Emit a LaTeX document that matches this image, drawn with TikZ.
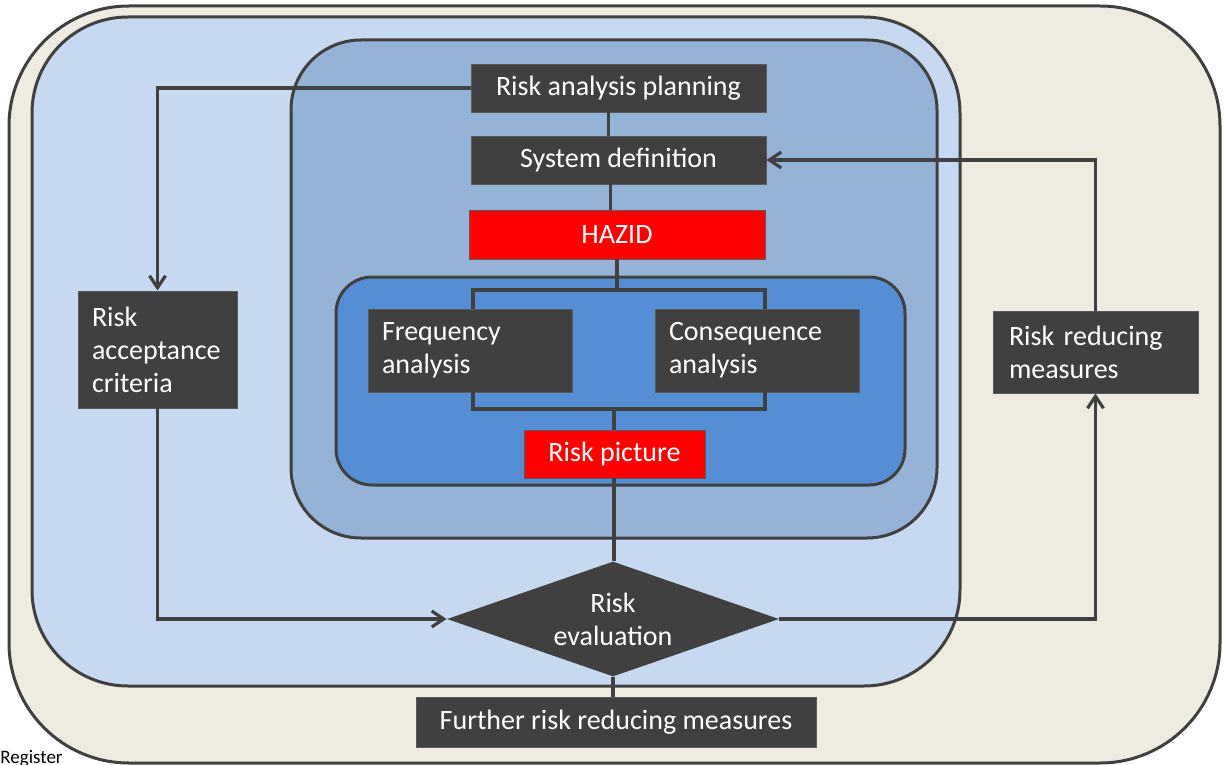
\documentclass[tikz,border=0pt]{standalone}
\usepackage{fontspec}
\setmainfont{Carlito}
\usetikzlibrary{arrows.meta, shapes.geometric}
\definecolor{regfill}{HTML}{EEECE1}
\definecolor{studyfill}{HTML}{C6D9F1}
\definecolor{analysisfill}{HTML}{95B3D7}
\definecolor{estimfill}{HTML}{558ED5}
\definecolor{stepfill}{HTML}{404040}
\definecolor{stepedge}{HTML}{5A5A5A}
\definecolor{hazfill}{HTML}{FF0000}
\definecolor{lineedge}{HTML}{404040}

\begin{document}
\begin{tikzpicture}[x=0.5pt, y=-0.5pt,
  zone/.style={draw=lineedge, line width=1.5pt},
  stepbox/.style={rectangle, fill=stepfill, draw=stepedge, line width=0.4pt, text=white,
                  font=\fontsize{14}{16.5}\selectfont, inner sep=0pt},
  redbox/.style={stepbox, fill=hazfill},
  textbox/.style={stepbox, align=left, inner xsep=7pt},
  decide/.style={diamond, fill=stepfill, text=white, font=\fontsize{14}{16.5}\selectfont,
                 align=center, inner sep=0pt, aspect=2.9, minimum width=166pt,
                 minimum height=57.5pt},
  flow/.style={draw=lineedge, line width=1.6pt},
  arr/.style={flow, -{Straight Barb[length=6pt, width=8pt]}},
]
\useasboundingbox (0,0) rectangle (1227,765);
% nested regions: register > study > analysis > estimation
\draw[zone, fill=regfill, rounded corners=60pt] (9,6) rectangle (1220,763);
\draw[zone, fill=studyfill, rounded corners=48pt] (32,17) rectangle (960,686);
\draw[zone, fill=analysisfill, rounded corners=35pt] (291,40) rectangle (937,538);
\draw[zone, fill=estimfill, rounded corners=18pt] (336,277) rectangle (905,485);
\node[anchor=base west, inner sep=0pt, font=\fontsize{9.5}{11}\selectfont] (register) at (0,763) {Register};

\node[stepbox, minimum width=147.5pt, minimum height=24pt] (plan) at (618.5,88) {Risk analysis planning};
\node[stepbox, minimum width=147.5pt, minimum height=24pt] (sysdef) at (618.5,160) {System definition};
\node[redbox, minimum width=148pt, minimum height=24.5pt] (hazid) at (617,234.5) {HAZID};
\node[textbox, text width=88pt, minimum height=41.5pt] (freq) at (470,350.5) {Frequency\\analysis};
\node[textbox, text width=88pt, minimum height=41.5pt] (cons) at (757,350.5) {Consequence\\analysis};
\node[redbox, minimum width=90.5pt, minimum height=24pt] (riskpic) at (614.5,454) {Risk picture};
\node[decide] (eval) at (613,619) {Risk\\evaluation};
\node[stepbox, minimum width=200pt, minimum height=25pt] (further) at (616,722) {Further risk reducing measures};
\node[textbox, text width=65.5pt, minimum height=58.5pt] (accept) at (157.5,349.5) {Risk\\acceptance\\criteria};
\node[textbox, inner xsep=8pt, text width=86.5pt, minimum height=41pt] (reduce) at (1095.5,352) {Risk reducing\\measures};

% fork into the two analyses and join back
\coordinate (forkL) at (473,290);
\coordinate (forkR) at (765,290);
\coordinate (joinL) at (473,409);
\coordinate (joinR) at (765,409);
\coordinate (join) at (614,409);

\draw[flow] ([xshift=-5pt]plan.south) -- ([xshift=-5pt]plan.south |- sysdef.north);
\draw[flow] ([xshift=-4pt]sysdef.south) -- ([xshift=-4pt]sysdef.south |- hazid.north);
\draw[flow] (hazid.south) -- (hazid.south |- forkL);
\draw[flow] (freq.north -| forkL) -- (forkL) -- (forkR) -- (cons.north -| forkR);
\draw[flow] (freq.south -| joinL) -- (joinL) -- (joinR) -- (cons.south -| joinR);
\draw[flow] (join) -- (join |- riskpic.north);
\draw[flow] (join |- riskpic.south) -- (join |- eval.north);
\draw[flow] (eval.south) -- (eval.south |- further.north);
% acceptance criteria loop on the left
\draw[arr] (plan.west) -| (accept.north);
\draw[arr] (accept.south) |- (eval.west);
% risk reduction loop on the right
\draw[arr] (eval.east) -| (reduce.south);
\draw[arr] (reduce.north) |- (sysdef.east);
\end{tikzpicture}
\end{document}
